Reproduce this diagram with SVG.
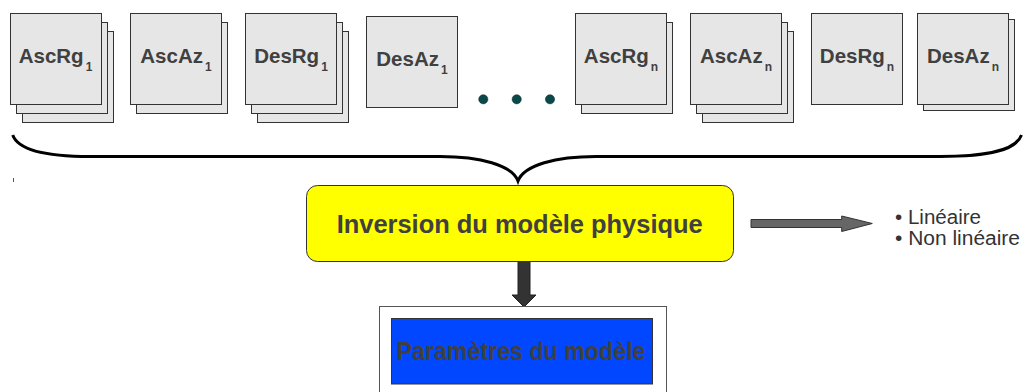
<svg xmlns="http://www.w3.org/2000/svg" width="1023" height="392" viewBox="0 0 1023 392">
<style>
.card{fill:#e6e6e6;stroke:#333;stroke-width:1}
.lbl{font-family:"Liberation Sans",Arial,sans-serif;font-weight:bold;font-size:20.5px;fill:#404040;text-anchor:middle}
.sub{font-size:12px}
.big{font-family:"Liberation Sans",Arial,sans-serif;font-weight:bold;fill:#404040;text-anchor:middle}
.bul{font-family:"Liberation Sans",Arial,sans-serif;font-size:20px;fill:#333}
</style>
<rect width="1023" height="392" fill="#fff"/>
<g id="AscRg1">
<rect class="card" x="22.5" y="31.5" width="91" height="91"/>
<rect class="card" x="16.5" y="22.5" width="91" height="91"/>
<rect class="card" x="10.5" y="13.5" width="91" height="91"/>
<text class="lbl" x="55.5" y="63.3">AscRg<tspan class="sub" dx="2" dy="8">1</tspan></text>
</g>
<g id="AscAz1">
<rect class="card" x="136.5" y="22.5" width="91" height="91"/>
<rect class="card" x="130.5" y="13.5" width="91" height="91"/>
<text class="lbl" x="176" y="63.3">AscAz<tspan class="sub" dx="2" dy="8">1</tspan></text>
</g>
<g id="DesRg1">
<rect class="card" x="257.5" y="31.5" width="91" height="91"/>
<rect class="card" x="251.5" y="22.5" width="91" height="91"/>
<rect class="card" x="245.5" y="13.5" width="91" height="91"/>
<text class="lbl" x="291" y="63.3">DesRg<tspan class="sub" dx="2" dy="8">1</tspan></text>
</g>
<g id="DesAz1">
<rect class="card" x="366.5" y="16.5" width="91" height="91"/>
<text class="lbl" x="412" y="66.3">DesAz<tspan class="sub" dx="2" dy="8">1</tspan></text>
</g>
<g id="dots" fill="#0b4848" stroke="#062e2e" stroke-width="0.5">
<circle cx="483.3" cy="99.3" r="4.6"/>
<circle cx="516.7" cy="99.3" r="4.6"/>
<circle cx="550" cy="99.3" r="4.6"/>
</g>
<g id="AscRgn">
<rect class="card" x="581.5" y="22.5" width="91" height="91"/>
<rect class="card" x="575.5" y="13.5" width="91" height="91"/>
<text class="lbl" x="621" y="63.3">AscRg<tspan class="sub" dx="2" dy="8">n</tspan></text>
</g>
<g id="AscAzn">
<rect class="card" x="702.5" y="31.5" width="91" height="91"/>
<rect class="card" x="696.5" y="22.5" width="91" height="91"/>
<rect class="card" x="690.5" y="13.5" width="91" height="91"/>
<text class="lbl" x="736" y="63.3">AscAz<tspan class="sub" dx="2" dy="8">n</tspan></text>
</g>
<g id="DesRgn">
<rect class="card" x="811.5" y="13.5" width="91" height="91"/>
<text class="lbl" x="857" y="63.3">DesRg<tspan class="sub" dx="2" dy="8">n</tspan></text>
</g>
<g id="DesAzn">
<rect class="card" x="923.5" y="19.5" width="91" height="91"/>
<rect class="card" x="917.5" y="13.5" width="91" height="91"/>
<text class="lbl" x="963" y="63.3">DesAz<tspan class="sub" dx="2" dy="8">n</tspan></text>
</g>
<g id="connectors">
<path d="M12.7,135 C18,150 45,156.5 90,156.5 L440,156.5 C480,156.5 512,165 518,181 C524,165 556,156.5 596,156.5 L940,156.5 C990,156.5 1016,150 1021.5,135" fill="none" stroke="#000" stroke-width="3"/>
<line x1="13.5" y1="178" x2="13.5" y2="182" stroke="#555" stroke-width="1"/>
<polygon points="518,261 530,261 530,295 536,295 524,307 512,295 518,295" fill="#333" stroke="#222" stroke-width="1"/>
<polygon points="751,219.5 841.7,219.5 841.7,216 872.3,223.5 841.7,231.5 841.7,227.5 751,227.5" fill="#666" stroke="#333" stroke-width="1"/>
</g>
<g id="inversion">
<rect x="306.5" y="185.5" width="427" height="76" rx="11" ry="11" fill="#ffff00" stroke="#333" stroke-width="1"/>
<text class="big" x="519.7" y="233.3" font-size="26" textLength="366" lengthAdjust="spacingAndGlyphs">Inversion du modèle physique</text>
</g>
<g id="options">
<text class="bul" x="895" y="224" textLength="86" lengthAdjust="spacingAndGlyphs">• Linéaire</text>
<text class="bul" x="895" y="245" textLength="125" lengthAdjust="spacingAndGlyphs">• Non linéaire</text>
</g>
<g id="parametres">
<rect x="379.5" y="306.5" width="287" height="100" fill="#fff" stroke="#555" stroke-width="1"/>
<rect x="391.5" y="318.5" width="261" height="65.5" fill="#0047ff" stroke="#333" stroke-width="1"/>
<text class="big" x="521" y="360" font-size="25" textLength="249" lengthAdjust="spacingAndGlyphs">Paramètres du modèle</text>
</g>
</svg>
